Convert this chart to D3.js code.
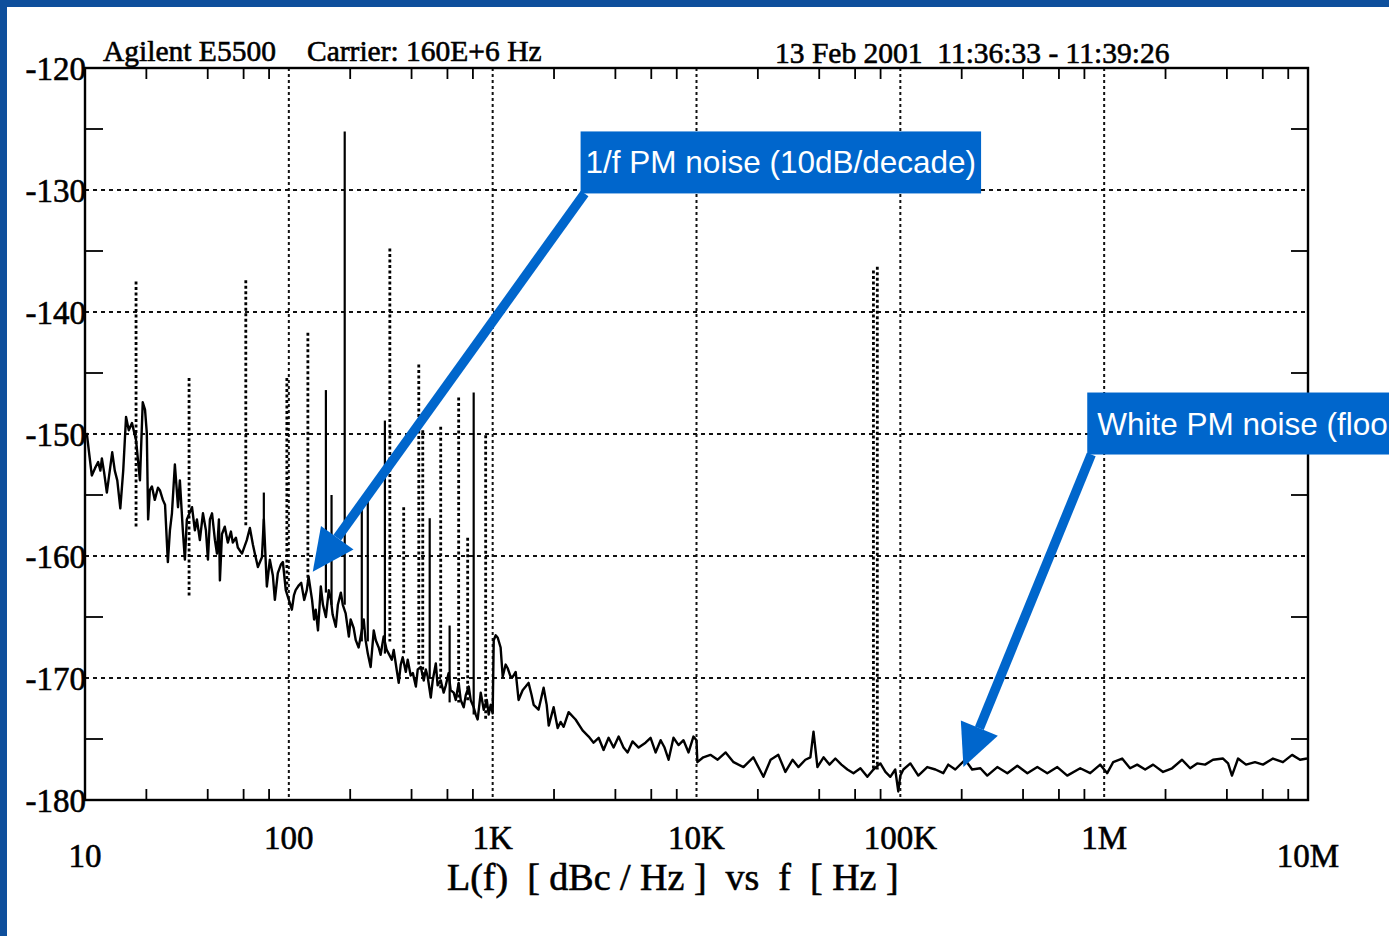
<!DOCTYPE html>
<html>
<head>
<meta charset="utf-8">
<script src="https://cdn.jsdelivr.net/npm/d3@7"></script>
<style>
  body { margin: 0; background: #fff; overflow: hidden; }
  text { white-space: pre; }
</style>
</head>
<body>
<script>
var width = 1389, height = 936;

// axis ticks
var freqTicks = [10, 100, 1e3, 1e4, 1e5, 1e6, 1e7];
var freqLabels = ["10", "100", "1K", "10K", "100K", "1M", "10M"];
var levelTicks = [-120, -130, -140, -150, -160, -170, -180];

// measured trace, [Hz, dBc/Hz]
var trace = [
  [10.2,-149.9],[10.5,-151.7],[10.8,-153.4],[11.2,-152.8],[11.6,-152.3],[11.9,-153.0],[12.1,-152.0],
  [12.4,-153.1],[12.8,-154.8],[13.6,-151.5],[14.0,-153.0],[14.4,-153.8],[14.9,-156.1],[15.4,-153.0],
  [15.9,-148.6],[16.4,-149.7],[17.0,-149.1],[17.8,-150.5],[18.6,-153.8],[19.2,-147.4],[19.7,-148.0],
  [20.1,-149.9],[20.4,-157.0],[20.8,-154.6],[21.3,-154.3],[22.0,-155.4],[22.8,-154.4],[23.3,-154.6],
  [24.1,-155.4],[24.7,-155.8],[25.5,-160.5],[26.1,-157.9],[26.7,-156.5],[27.6,-152.5],[28.2,-154.6],
  [28.6,-156.0],[29.2,-153.8],[30.2,-157.9],[30.9,-160.3],[31.6,-157.0],[33.5,-156.0],[34.6,-157.9],
  [35.4,-157.0],[36.6,-158.7],[37.9,-156.5],[39.2,-157.9],[40.1,-160.3],[41.0,-157.0],[42.0,-156.5],
  [43.4,-158.7],[44.4,-159.8],[45.4,-157.0],[45.9,-162.0],[47.0,-158.2],[48.5,-157.6],[50.2,-158.9],
  [52.0,-158.0],[53.1,-158.9],[55.0,-158.5],[56.2,-159.3],[58.9,-159.8],[62.2,-158.7],[64.4,-157.7],
  [66.7,-159.1],[68.1,-159.8],[70.5,-160.9],[73.8,-160.1],[75.4,-157.0],[78.0,-162.5],[80.7,-160.3],
  [83.5,-161.6],[85.4,-163.6],[88.3,-161.4],[91.4,-160.7],[93.5,-160.5],[96.6,-162.8],[100,-163.6],
  [103.5,-164.4],[106,-163.2],[108,-162.8],[112,-162.4],[115,-162.2],[119,-163.6],[122.5,-162.8],
  [125,-161.7],[130,-163.6],[133,-165.2],[135.5,-164.4],[139,-166.1],[143.5,-162.5],[147,-164.0],
  [152,-165.0],[157,-162.8],[161,-163.6],[164,-164.8],[170,-165.8],[174,-164.0],[180,-163.0],
  [184,-164.0],[190,-164.7],[197,-166.6],[201,-165.2],[208,-165.9],[213,-166.9],[220,-167.5],
  [228,-166.1],[233,-165.2],[238,-166.9],[244,-168.0],[252,-169.1],[261,-166.1],[267,-166.9],
  [276,-167.5],[282,-168.1],[292,-166.6],[302,-167.7],[309,-168.0],[320,-168.5],[327,-167.7],
  [338,-169.3],[346,-170.4],[354,-168.9],[362,-168.3],[375,-169.5],[383,-168.5],[396,-169.8],
  [406,-169.6],[420,-170.7],[429,-169.3],[444,-169.1],[459,-170.2],[470,-169.3],[480,-169.9],
  [497,-171.6],[508,-170.2],[526,-168.8],[537,-170.6],[556,-170.2],[575,-171.2],[589,-170.6],
  [608,-169.6],[622,-171.0],[644,-171.2],[659,-171.8],[681,-170.4],[697,-171.8],[721,-172.4],
  [738,-171.4],[763,-170.7],[780,-171.8],[807,-172.4],[826,-173.0],[844,-173.4],[874,-171.2],
  [904,-172.6],[936,-171.8],[956,-173.0],[978,-172.2],[1000,-172.9],
  [1012,-166.9],[1035,-166.5],[1059,-166.7],[1094,-167.5],[1120,-169.9],[1158,-168.9],[1185,-169.2],
  [1225,-169.9],[1254,-169.9],[1297,-169.5],[1340,-171.8],[1403,-171.0],[1452,-170.7],[1500,-170.4],
  [1552,-171.4],[1589,-172.2],[1679,-172.6],[1778,-170.8],[1841,-172.2],[1884,-173.9],[1991,-172.4],
  [2084,-174.1],[2154,-173.6],[2229,-174.0],[2358,-172.8],[2551,-173.4],[2761,-174.3],[2958,-174.8],
  [3127,-175.3],[3311,-174.9],[3500,-175.9],[3705,-174.9],[3920,-175.7],[4150,-174.8],[4385,-175.7],
  [4592,-176.1],[4853,-175.2],[5200,-175.7],[5623,-175.3],[5953,-174.9],[6300,-176.1],[6670,-175.1],
  [6970,-175.7],[7295,-176.7],[7710,-174.9],[8165,-175.5],[8635,-175.1],[9140,-176.1],[9660,-174.8],
  [10000,-175.1],
  [10.1e3,-176.9],[10.8e3,-176.5],[11.7e3,-176.3],[12.7e3,-176.7],[13.9e3,-176.1],[15.2e3,-176.9],
  [17.0e3,-177.3],[19.0e3,-176.5],[21.3e3,-178.1],[23.1e3,-176.7],[25.2e3,-176.3],[27.3e3,-177.7],
  [29.6e3,-176.7],[31.6e3,-177.3],[34.2e3,-176.7],[36.2e3,-176.5],[37.5e3,-174.4],[39.2e3,-177.3],
  [42.0e3,-176.5],[44.9e3,-177.1],[48.0e3,-176.6],[51.4e3,-177.1],[55.0e3,-177.5],[58.9e3,-177.8],
  [63.7e3,-177.4],[68.9e3,-178.1],[73.8e3,-177.5],[79.8e3,-177.0],[84.5e3,-177.7],[89.3e3,-178.1],
  [94.4e3,-177.5],[97.7e3,-179.3],[100e3,-178.0],
  [103.5e3,-177.5],[112e3,-177.0],[122.5e3,-178.0],[135.5e3,-177.3],[148.6e3,-177.5],[162.5e3,-177.8],
  [171.8e3,-177.1],[186e3,-177.5],[208e3,-176.7],[225e3,-177.5],[247e3,-177.4],[267e3,-178.0],
  [299e3,-177.3],[335e3,-177.8],[375e3,-177.2],[420e3,-177.8],[470e3,-177.3],[526e3,-177.8],
  [589e3,-177.3],[659e3,-178.0],[763e3,-177.4],[854e3,-177.8],[956e3,-177.1],
  [1.035e6,-177.8],[1.107e6,-176.9],[1.225e6,-176.6],[1.340e6,-177.4],[1.452e6,-177.1],[1.589e6,-177.5],
  [1.738e6,-177.1],[1.945e6,-177.7],[2.154e6,-177.4],[2.410e6,-176.7],[2.642e6,-177.4],[2.858e6,-177.0],
  [3.127e6,-177.1],[3.420e6,-176.7],[3.830e6,-176.6],[4.055e6,-177.0],[4.236e6,-178.0],[4.539e6,-176.6],
  [4.966e6,-177.1],[5.495e6,-176.9],[6.012e6,-177.1],[6.732e6,-176.6],[7.534e6,-176.9],[8.356e6,-176.3],
  [9.140e6,-176.7],[9.886e6,-176.6]
];

// spurs: [Hz, peak dBc/Hz, base dBc/Hz]
var dottedSpurs = [
  [17.8,-137.5,-157.6],[32.4,-145.4,-163.4],[61.5,-137.4,-157.5],[97.8,-145.4,-163.0],
  [124,-141.7,-162.0],[313,-134.8,-167.0],[366,-156.0,-168.0],[434,-144.3,-169.0],
  [454,-149.7,-170.0],[556,-149.4,-171.0],[681,-147.0,-172.0],[754,-158.5,-172.0],
  [924,-150.1,-173.4],[73.8e3,-136.6,-177.5],[77.1e3,-136.3,-177.5]
];
var solidSpurs = [
  [75.4,-154.8,-159.1],[152,-146.4,-163.0],[162,-155.0,-164.0],[188,-125.2,-164.0],
  [228,-155.7,-167.0],[244,-155.4,-167.0],[296,-148.9,-168.0],[491,-156.9,-170.0],
  [615,-165.7,-172.0],[807,-146.6,-173.0]
];

var headerInstrument = "Agilent E5500";
var headerCarrier = "Carrier: 160E+6 Hz";
var headerDate = "13 Feb 2001  11:36:33 - 11:39:26";
var axisTitle = "L(f)  [ dBc / Hz ]  vs  f  [ Hz ]";

// callouts: text, box corner and arrow tip in data units
var callouts = [
  { text: "1/f PM noise (10dB/decade)", box: [2700, -125.2], tip: [131, -161.3] },
  { text: "White PM noise (floor)", box: [826e3, -146.6], tip: [204e3, -177.3] }
];

var svg = d3.select('body')
  .append('svg')
  .attr('width', width)
  .attr('height', height);

var x = d3.scaleLog().domain([10, 1e7]).range([85, 1308]);
var y = d3.scaleLinear().domain([-180, -120]).range([800, 68]);

// blue slide frame
svg.append('rect').attr('x', 0).attr('y', 0).attr('width', width).attr('height', 7).attr('fill', '#0e4f9c');
svg.append('rect').attr('x', 0).attr('y', 0).attr('width', 7).attr('height', height).attr('fill', '#0e4f9c');

var g = svg.append('g');

// grid
g.selectAll('.vgrid')
  .data(freqTicks.slice(1, -1))
  .enter().append('line')
    .attr('x1', function (d) { return x(d); })
    .attr('x2', function (d) { return x(d); })
    .attr('y1', y(-120)).attr('y2', y(-180))
    .attr('stroke', '#111').attr('stroke-width', 2)
    .attr('stroke-dasharray', '3,3');

g.selectAll('.hgrid')
  .data(levelTicks.slice(1, -1))
  .enter().append('line')
    .attr('x1', x(10)).attr('x2', x(1e7))
    .attr('y1', function (d) { return y(d); })
    .attr('y2', function (d) { return y(d); })
    .attr('stroke', '#111').attr('stroke-width', 2)
    .attr('stroke-dasharray', '4,4');

// minor ticks
var minorFreq = [];
freqTicks.slice(0, -1).forEach(function (d) {
  [2, 4, 6, 8].forEach(function (m) { minorFreq.push(d * m); });
});
var minorLevel = d3.range(-125, -180, -10);

g.selectAll('.xminB').data(minorFreq).enter().append('line')
  .attr('x1', function (d) { return x(d); }).attr('x2', function (d) { return x(d); })
  .attr('y1', y(-180)).attr('y2', y(-180) - 11)
  .attr('stroke', '#000').attr('stroke-width', 1.8);
g.selectAll('.xminT').data(minorFreq).enter().append('line')
  .attr('x1', function (d) { return x(d); }).attr('x2', function (d) { return x(d); })
  .attr('y1', y(-120)).attr('y2', y(-120) + 11)
  .attr('stroke', '#000').attr('stroke-width', 1.8);
g.selectAll('.yminL').data(minorLevel).enter().append('line')
  .attr('x1', x(10)).attr('x2', x(10) + 18)
  .attr('y1', function (d) { return y(d); }).attr('y2', function (d) { return y(d); })
  .attr('stroke', '#000').attr('stroke-width', 1.8);
g.selectAll('.yminR').data(minorLevel).enter().append('line')
  .attr('x1', x(1e7)).attr('x2', x(1e7) - 17)
  .attr('y1', function (d) { return y(d); }).attr('y2', function (d) { return y(d); })
  .attr('stroke', '#000').attr('stroke-width', 1.8);

// spurs
g.selectAll('.dspur').data(dottedSpurs).enter().append('line')
  .attr('x1', function (d) { return x(d[0]); }).attr('x2', function (d) { return x(d[0]); })
  .attr('y1', function (d) { return y(d[1]); }).attr('y2', function (d) { return y(d[2]); })
  .attr('stroke', '#000').attr('stroke-width', 2.8)
  .attr('stroke-dasharray', '3,2.5');
g.selectAll('.sspur').data(solidSpurs).enter().append('line')
  .attr('x1', function (d) { return x(d[0]); }).attr('x2', function (d) { return x(d[0]); })
  .attr('y1', function (d) { return y(d[1]); }).attr('y2', function (d) { return y(d[2]); })
  .attr('stroke', '#000').attr('stroke-width', 2.2);

// trace
var line = d3.line()
  .x(function (d) { return x(d[0]); })
  .y(function (d) { return y(d[1]); });
g.append('path')
  .datum(trace)
  .attr('d', line)
  .attr('fill', 'none')
  .attr('stroke', '#000')
  .attr('stroke-width', 2.4)
  .attr('stroke-linejoin', 'round');

// frame
g.append('rect')
  .attr('x', x(10)).attr('y', y(-120))
  .attr('width', x(1e7) - x(10)).attr('height', y(-180) - y(-120))
  .attr('fill', 'none').attr('stroke', '#000').attr('stroke-width', 2.4);

// axis labels
var serif = "'Liberation Serif', 'Times New Roman', serif";
function ink(sel) {
  return sel.attr('font-family', serif).attr('fill', '#000')
    .attr('stroke', '#000').attr('stroke-width', 0.6);
}

ink(g.selectAll('.ylab').data(levelTicks).enter().append('text'))
  .attr('x', x(10) + 1)
  .attr('y', function (d) { return y(d); })
  .attr('dy', '0.35em')
  .attr('text-anchor', 'end')
  .attr('font-size', 33)
  .text(function (d) { return d; });

ink(g.selectAll('.xlab').data(freqTicks).enter().append('text'))
  .attr('x', function (d) { return x(d); })
  .attr('y', function (d, i) { return (i === 0 || i === freqTicks.length - 1) ? 867 : 849; })
  .attr('text-anchor', 'middle')
  .attr('font-size', 33)
  .text(function (d, i) { return freqLabels[i]; });

ink(svg.append('text'))
  .attr('x', 447).attr('y', 890)
  .attr('font-size', 38)
  .text(axisTitle);

ink(svg.append('text'))
  .attr('x', 103).attr('y', 61)
  .attr('font-size', 29.5)
  .text(headerInstrument);
ink(svg.append('text'))
  .attr('x', 307).attr('y', 61)
  .attr('font-size', 29.5)
  .text(headerCarrier);
ink(svg.append('text'))
  .attr('x', 775).attr('y', 63)
  .attr('font-size', 29.5)
  .text(headerDate);

// callouts (the second box runs off the right edge of the slide, as in the original)
var sans = "'Liberation Sans', Arial, sans-serif";
callouts.forEach(function (c, i) {
  var bx = x(c.box[0]), by = y(c.box[1]);
  var pad = i === 0 ? 5 : 10;
  var grp = svg.append('g');
  var rect = grp.append('rect').attr('x', bx).attr('y', by).attr('height', 62).attr('fill', '#0066cc');
  var t = grp.append('text')
    .attr('x', bx + pad).attr('y', by + 42)
    .attr('font-family', sans).attr('font-size', 31.5)
    .attr('fill', '#fff')
    .text(c.text);
  rect.attr('width', t.node().getComputedTextLength() + 2 * pad);

  var tx = x(c.tip[0]), ty = y(c.tip[1]);
  var sx = bx + 4, sy = by + 62;
  var ang = Math.atan2(ty - sy, tx - sx);
  var headLen = 42, headW = 20;
  var bxh = tx - headLen * Math.cos(ang), byh = ty - headLen * Math.sin(ang);
  grp.append('line')
    .attr('x1', sx).attr('y1', sy).attr('x2', bxh).attr('y2', byh)
    .attr('stroke', '#0066cc').attr('stroke-width', 9.5);
  var px = -Math.sin(ang), py = Math.cos(ang);
  grp.append('path')
    .attr('d', 'M' + tx + ',' + ty +
      'L' + (bxh + px * headW) + ',' + (byh + py * headW) +
      'L' + (bxh - px * headW) + ',' + (byh - py * headW) + 'Z')
    .attr('fill', '#0066cc');
});
</script>
</body>
</html>
